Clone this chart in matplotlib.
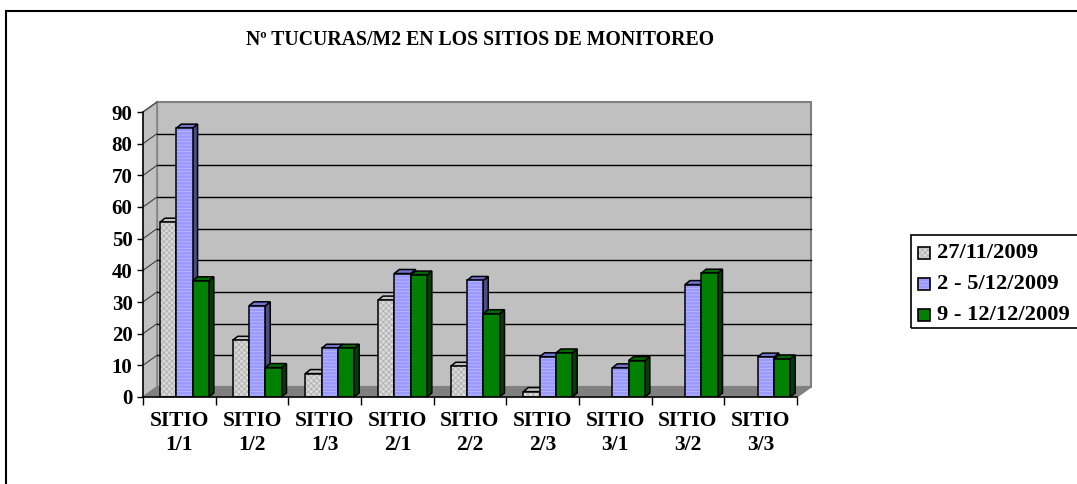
import numpy as np
import matplotlib
matplotlib.use("Agg")
import matplotlib.pyplot as plt
from matplotlib.patches import Polygon, Rectangle

# data
sites = ["SITIO\n1/1", "SITIO\n1/2", "SITIO\n1/3", "SITIO\n2/1", "SITIO\n2/2",
         "SITIO\n2/3", "SITIO\n3/1", "SITIO\n3/2", "SITIO\n3/3"]
series_names = ["27/11/2009", "2 - 5/12/2009", "9 - 12/12/2009"]
fecha1 = [55.2, 17.9, 7.4, 30.6, 9.7, 1.7, 0, 0, 0]
fecha2 = [84.9, 28.8, 15.4, 39.0, 36.8, 12.7, 9.2, 35.5, 12.6]
fecha3 = [36.7, 9.3, 15.4, 38.5, 26.3, 13.9, 11.5, 39.1, 12.0]
yticks = list(range(0, 100, 10))
title = "Nº TUCURAS/M2 EN LOS SITIOS DE MONITOREO"

W, H = 1077, 484
plt.rcParams['font.family'] = ['Liberation Serif', 'DejaVu Serif']
plt.rcParams['font.weight'] = 'bold'
plt.rcParams['hatch.linewidth'] = 0.6

fig = plt.figure(figsize=(W / 100, H / 100), dpi=100)


def fx(px):
    return px / W


def fy(py):
    return 1 - py / H


# front plane of the pseudo 3D plot, in pixels
left, right, base, top = 143, 797, 397, 112
ax = fig.add_axes([fx(left), fy(base), (right - left) / W, (base - top) / H])
n = len(sites)
ymax = 90
ax.set_xlim(0, n)
ax.set_ylim(0, ymax)
ax.patch.set_visible(False)

ux = (right - left) / n
uy = (base - top) / ymax
wdx, wdy = 14 / ux, 10 / uy      # wall depth
bdx, bdy = 5 / ux, 4 / uy        # bar depth

# back wall, side wall, floor
ax.add_patch(Polygon([(wdx, wdy), (n + wdx, wdy), (n + wdx, ymax + wdy), (wdx, ymax + wdy)],
                     closed=True, fc='#c0c0c0', ec='#808080', lw=1.5, clip_on=False, zorder=0.5))
ax.add_patch(Polygon([(0, 0), (wdx, wdy), (wdx, ymax + wdy), (0, ymax)],
                     closed=True, fc='#c0c0c0', ec='#808080', lw=1, clip_on=False, zorder=0.5))
ax.add_patch(Polygon([(0, 0), (n, 0), (n + wdx, wdy), (wdx, wdy)],
                     closed=True, fc='#808080', ec='#808080', lw=1, clip_on=False, zorder=0.6))
for v in yticks[1:-1]:
    ax.plot([wdx, n + wdx], [v + wdy, v + wdy], color='black', lw=1, clip_on=False, zorder=0.7)
for v in yticks[1:]:
    ax.plot([0, wdx], [v, v + wdy], color='#404040', lw=0.8, clip_on=False, zorder=0.7)

styles = [
    dict(face='#dadada', hatch='xxxxxx', hcol='#b0b0b0', top='#c4c4c4', side='#8a8a8a'),
    dict(face='#9999ff', hatch='-----', hcol='#b9b9ff', top='#7373d0', side='#4d4d80'),
    dict(face='#008000', hatch=None, hcol=None, top='#006a00', side='#003f00'),
]
values = [fecha1, fecha2, fecha3]
bw = 0.224
shift = 0.07

for i in range(n):
    for k, vals in enumerate(values):
        h = vals[i]
        if h <= 0:
            continue
        st = styles[k]
        x0 = i + 0.5 + shift + (k - 1) * bw - bw / 2
        x1 = x0 + bw
        z = 3 + i * 10 + k * 3
        ax.add_patch(Polygon([(x1, 0), (x1 + bdx, bdy), (x1 + bdx, h + bdy), (x1, h)],
                             closed=True, fc=st['side'], ec='black', lw=1.1, zorder=z, clip_on=False))
        ax.add_patch(Polygon([(x0, h), (x1, h), (x1 + bdx, h + bdy), (x0 + bdx, h + bdy)],
                             closed=True, fc=st['top'], ec='black', lw=1.1, zorder=z, clip_on=False))
        ax.bar(x0, h, width=bw, align='edge', color=st['face'], edgecolor='none', zorder=z + 0.5)
        if st['hatch']:
            ax.bar(x0, h, width=bw, align='edge', fill=False, hatch=st['hatch'],
                   edgecolor=st['hcol'], lw=0, zorder=z + 0.6)
        ax.bar(x0, h, width=bw, align='edge', fill=False, edgecolor='black', lw=1.1, zorder=z + 0.7)

# axes
for s in ['top', 'right']:
    ax.spines[s].set_visible(False)
for s in ['left', 'bottom']:
    ax.spines[s].set_color('black')
    ax.spines[s].set_linewidth(1.1)
    ax.spines[s].set_zorder(200)
ax.set_yticks(yticks)
ax.set_yticklabels([str(v) for v in yticks], fontsize=15, fontweight='bold')
ax.tick_params(axis='y', direction='out', length=4, width=1, pad=3.5)
ax.set_xticks(np.arange(n + 1))
ax.set_xticklabels([])
ax.tick_params(axis='x', which='major', direction='out', length=6, width=1)
ax.set_xticks(np.arange(n) + 0.5, minor=True)
ax.set_xticklabels(sites, minor=True, fontsize=15.5, fontweight='bold', linespacing=1.27)
ax.tick_params(axis='x', which='minor', length=0, pad=10)

fig.text(fx(480), fy(40), title, ha='center', va='center', fontsize=14.2, fontweight='bold')

# legend
fig.add_artist(Rectangle((fx(911), fy(328)), fx(1090 - 911), (328 - 235) / H,
                         transform=fig.transFigure, fill=False, ec='black', lw=1.2))
for k, name in enumerate(series_names):
    cy = 253 + k * 31
    st = styles[k]
    fig.add_artist(Rectangle((fx(918), fy(cy + 6)), fx(12), 12 / H, transform=fig.transFigure,
                             fc=st['face'], ec='none'))
    if st['hatch']:
        fig.add_artist(Rectangle((fx(918), fy(cy + 6)), fx(12), 12 / H, transform=fig.transFigure,
                                 fill=False, hatch=st['hatch'], ec=st['hcol'], lw=0))
    fig.add_artist(Rectangle((fx(918), fy(cy + 6)), fx(12), 12 / H, transform=fig.transFigure,
                             fill=False, ec='black', lw=1.2))
    fig.text(fx(937), fy(cy), name, ha='left', va='center', fontsize=16.2, fontweight='bold')

# chart border
fig.add_artist(Rectangle((fx(6), fy(520)), fx(1200), (520 - 11) / H, transform=fig.transFigure,
                         fill=False, ec='black', lw=1.5))

fig.savefig("out.png", dpi=100)
